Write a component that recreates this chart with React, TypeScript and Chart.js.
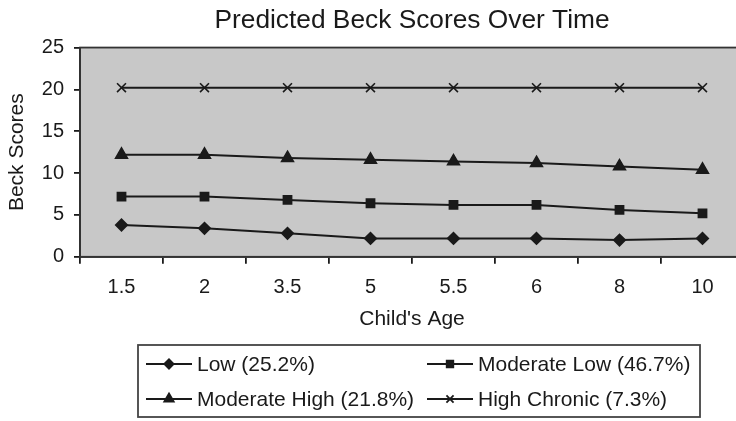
import React, { useEffect, useRef } from "react";
import { Chart, registerables } from "chart.js";
import { drawPoint } from "chart.js/helpers";

Chart.register(...registerables);

const ages = ["1.5", "2", "3.5", "5", "5.5", "6", "8", "10"];
const lowValues = [3.8, 3.4, 2.8, 2.2, 2.2, 2.2, 2.0, 2.2];
const moderateLowValues = [7.2, 7.2, 6.8, 6.4, 6.2, 6.2, 5.6, 5.2];
const moderateHighValues = [12.2, 12.2, 11.8, 11.6, 11.4, 11.2, 10.8, 10.4];
const highChronicValues = [20.2, 20.2, 20.2, 20.2, 20.2, 20.2, 20.2, 20.2];
const seriesNames = ["Low (25.2%)", "Moderate Low (46.7%)", "Moderate High (21.8%)", "High Chronic (7.3%)"];
const yMin = 0;
const yMax = 25;
const yStep = 5;

const FONT = "'Liberation Sans', Arial, sans-serif";
const INK = "#1a1a1a";

const plotFrame = {
  id: "plotFrame",
  beforeDraw(chart: any) {
    const { ctx, chartArea: a } = chart;
    ctx.save();
    ctx.fillStyle = "#c8c8c8";
    ctx.fillRect(a.left, a.top, a.right - a.left, a.bottom - a.top);
    ctx.restore();
  },
  afterDraw(chart: any) {
    const { ctx, chartArea: a } = chart;
    ctx.save();
    ctx.strokeStyle = "#333";
    ctx.lineWidth = 1.8;
    ctx.strokeRect(a.left, a.top, a.right - a.left, a.bottom - a.top);
    ctx.restore();
  },
};

const boxLegend = {
  id: "boxLegend",
  afterDraw(chart: any) {
    const { ctx } = chart;
    const box = { left: 138, top: 345, right: 700, bottom: 417 };
    ctx.save();
    ctx.strokeStyle = "#444";
    ctx.lineWidth = 1.8;
    ctx.strokeRect(box.left, box.top, box.right - box.left, box.bottom - box.top);
    const colX = [146, 427];
    const rowY = [364, 399];
    ctx.font = `21px ${FONT}`;
    ctx.textBaseline = "middle";
    chart.data.datasets.forEach((ds: any, i: number) => {
      const x = colX[i % 2];
      const y = rowY[Math.floor(i / 2)];
      ctx.strokeStyle = INK;
      ctx.lineWidth = 1.8;
      ctx.beginPath();
      ctx.moveTo(x, y);
      ctx.lineTo(x + 46, y);
      ctx.stroke();
      ctx.fillStyle = INK;
      drawPoint(ctx, { pointStyle: ds.pointStyle, rotation: 0, radius: ds.pointRadius * 0.8, borderWidth: 1.5 }, x + 23, y);
      ctx.fillStyle = INK;
      ctx.fillText(ds.label, x + 51, y + 1);
    });
    ctx.restore();
  },
};

export default function App() {
  const ref = useRef<HTMLCanvasElement>(null);
  useEffect(() => {
    if (!ref.current) return;
    const mk = (label: string, data: number[], pointStyle: string, r: number) => ({
      label,
      data,
      borderColor: INK,
      backgroundColor: INK,
      pointBackgroundColor: INK,
      pointBorderColor: INK,
      borderWidth: 2,
      pointStyle,
      pointRadius: r,
      pointBorderWidth: 1.6,
      tension: 0,
    });
    const chart = new Chart(ref.current, {
      type: "line",
      data: {
        labels: ages,
        datasets: [
          mk(seriesNames[0], lowValues, "rectRot", 5.8),
          mk(seriesNames[1], moderateLowValues, "rect", 5.8),
          mk(seriesNames[2], moderateHighValues, "triangle", 6.8),
          mk(seriesNames[3], highChronicValues, "crossRot", 6.3),
        ],
      },
      options: {
        animation: false,
        responsive: true,
        maintainAspectRatio: false,
        layout: { padding: { left: 0, right: 16, top: 0, bottom: 89 } },
        plugins: {
          legend: { display: false },
          tooltip: { enabled: false },
          title: {
            display: true,
            fullSize: false,
            text: "Predicted Beck Scores Over Time",
            color: INK,
            font: { family: FONT, size: 26.3, weight: "normal" },
            padding: { top: 4.5, bottom: 11.5 },
          },
        },
        scales: {
          x: {
            offset: true,
            grid: { offset: true, drawOnChartArea: false, drawTicks: true, tickLength: 7, color: INK, lineWidth: 1.8 },
            border: { display: true, color: INK, width: 1.8 },
            ticks: { color: INK, font: { family: FONT, size: 20 }, padding: 12, maxRotation: 0 },
            title: { display: true, text: "Child's Age", color: INK, font: { family: FONT, size: 21 }, padding: { top: -5, bottom: 0 } },
          },
          y: {
            min: yMin,
            max: yMax,
            afterFit(scale: any) {
              scale.width = 80;
            },
            grid: { drawOnChartArea: false, drawTicks: true, tickLength: 6, color: INK, lineWidth: 1.8 },
            border: { display: true, color: INK, width: 1.8 },
            ticks: { stepSize: yStep, color: INK, font: { family: FONT, size: 20 }, padding: 10 },
            title: { display: true, text: "Beck Scores", color: INK, font: { family: FONT, size: 21 }, padding: { top: 5, bottom: 0 } },
          },
        },
      },
      plugins: [plotFrame, boxLegend],
    });
    return () => chart.destroy();
  }, []);
  return (
    <div style={{ position: "absolute", left: 0, top: 0, width: 736, height: 421, overflow: "hidden", background: "#fff" }}>
      <div style={{ position: "relative", width: 760, height: 421 }}>
        <canvas ref={ref} />
      </div>
    </div>
  );
}
